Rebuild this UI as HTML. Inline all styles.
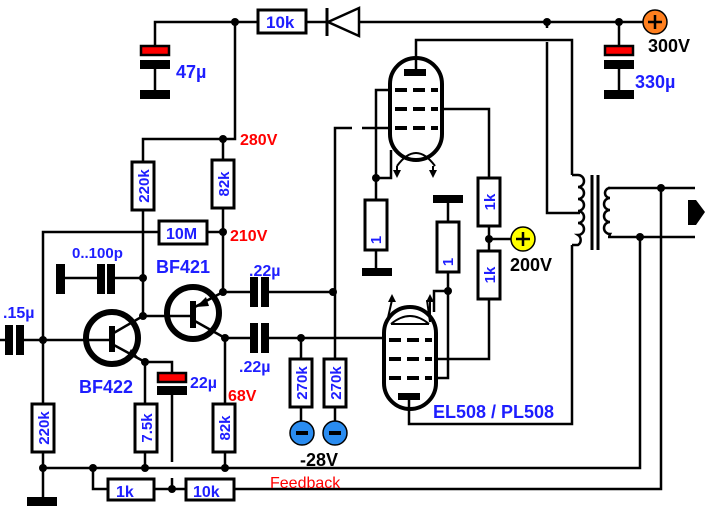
<!DOCTYPE html>
<html><head><meta charset="utf-8"><style>
html,body{margin:0;padding:0;background:#fff}
svg{display:block}
text{font-family:"Liberation Sans",sans-serif;font-weight:bold}
.b{fill:#1e1eff}.r{fill:#ff0000}.k{fill:#000}
</style></head><body>
<svg width="712" height="506" viewBox="0 0 712 506" xmlns="http://www.w3.org/2000/svg">
<g stroke="#000" stroke-width="2.5" fill="none">
<polyline points="155,45 155,22 257,22"/>
<line x1="307" y1="22" x2="327" y2="22"/>
<line x1="360" y1="22" x2="644" y2="22"/>
<line x1="155" y1="69" x2="155" y2="92"/>
<polyline points="235,22 235,139 143,139 143,161"/>
<line x1="223" y1="139" x2="223" y2="159"/>
<line x1="143" y1="211" x2="143" y2="316"/>
<line x1="223" y1="209" x2="223" y2="292"/>
<polyline points="43,497 43,232 158,232"/>
<line x1="208" y1="232" x2="223" y2="232"/>
<line x1="60" y1="278" x2="100" y2="278"/>
<line x1="112" y1="278" x2="143" y2="278"/>
<line x1="0" y1="340" x2="8" y2="340"/>
<line x1="20" y1="340" x2="88" y2="340"/>
<line x1="143" y1="316" x2="190" y2="316"/>
<polyline points="145,362 172,362 172,373"/>
<line x1="145" y1="362" x2="145" y2="403"/>
<line x1="172" y1="395" x2="172" y2="462"/>
<line x1="172" y1="478" x2="172" y2="489"/>
<line x1="225" y1="338" x2="225" y2="403"/>
<line x1="223" y1="292" x2="252" y2="292"/>
<line x1="264" y1="292" x2="335" y2="292"/>
<line x1="225" y1="338" x2="252" y2="338"/>
<line x1="264" y1="338" x2="386" y2="338"/>
<line x1="301" y1="338" x2="301" y2="358"/>
<line x1="301" y1="408" x2="301" y2="422"/>
<line x1="335" y1="408" x2="335" y2="422"/>
<polyline points="335,358 335,128 352,128"/>
<line x1="362" y1="128" x2="392" y2="128"/>
<line x1="43" y1="453" x2="43" y2="403"/>
<line x1="145" y1="453" x2="145" y2="468"/>
<line x1="225" y1="453" x2="225" y2="468"/>
<polyline points="43,468 640,468 640,237"/>
<polyline points="93,468 93,489 107,489"/>
<line x1="155" y1="489" x2="185" y2="489"/>
<polyline points="235,489 661,489 661,188"/>
<polyline points="416,70 416,40 572,40 572,175"/>
<polyline points="392,90 376,90 376,200"/>
<polyline points="391,150 391,178 376,178"/>
<line x1="376" y1="250" x2="376" y2="270"/>
<polyline points="441,109 489,109 489,177"/>
<line x1="489" y1="227" x2="489" y2="250"/>
<line x1="489" y1="239" x2="511" y2="239"/>
<polyline points="489,300 489,359 436,359"/>
<line x1="448" y1="203" x2="448" y2="222"/>
<polyline points="448,272 448,378 436,378"/>
<polyline points="448,291 434,291 434,312"/>
<polyline points="409,398 409,424 572,424 572,245"/>
<polyline points="547,22 547,28"/>
<polyline points="547,42 547,213 580,213"/>
<polyline points="608,188 695,188"/>
<polyline points="608,237 695,237"/>
<path d="M572,175 h6 a6,6 0 0 1 0,12 a6,6 0 0 1 0,12 a6,6 0 0 1 0,12 a6,6 0 0 1 0,12 a6,6 0 0 1 0,12 a6,6 0 0 1 0,10 h-6"/>
<line x1="592" y1="175" x2="592" y2="250" stroke-width="3"/>
<line x1="598" y1="175" x2="598" y2="250" stroke-width="3"/>
<path d="M610,188 a5,5 0 0 0 0,10 a6,6 0 0 0 0,12 a6,6 0 0 0 0,12 a6,6 0 0 0 0,12 a3,3 0 0 0 0,3"/>
</g>
<g fill="#000">
<circle cx="235" cy="22" r="4"/><circle cx="547" cy="22" r="4"/><circle cx="619" cy="22" r="4"/>
<circle cx="223" cy="139" r="4"/><circle cx="223" cy="232" r="4"/>
<circle cx="143" cy="278" r="4"/><circle cx="143" cy="316" r="4"/>
<circle cx="43" cy="340" r="4"/><circle cx="145" cy="362" r="4"/>
<circle cx="223" cy="292" r="4"/><circle cx="225" cy="338" r="4"/>
<circle cx="333" cy="292" r="4"/><circle cx="301" cy="338" r="4"/>
<circle cx="43" cy="468" r="4"/><circle cx="93" cy="468" r="4"/><circle cx="145" cy="468" r="4"/><circle cx="225" cy="468" r="4"/>
<circle cx="172" cy="489" r="4"/>
<circle cx="376" cy="178" r="4"/><circle cx="489" cy="239" r="4"/><circle cx="448" cy="291" r="4"/>
<circle cx="661" cy="188" r="4"/><circle cx="640" cy="237" r="4"/>
</g>
<line x1="619" y1="22" x2="619" y2="45" stroke="#000" stroke-width="2.5"/>
<line x1="619" y1="69" x2="619" y2="92" stroke="#000" stroke-width="2.5"/>
<g stroke="#000" stroke-width="2.5">
<rect x="141" y="46" width="28" height="9" fill="#ff0000"/>
<rect x="605" y="46" width="28" height="9" fill="#ff0000"/>
<rect x="158" y="373" width="28" height="9" fill="#ff0000"/>
</g>
<g fill="#000">
<rect x="140" y="60" width="30" height="9"/><rect x="140" y="90" width="30" height="9"/>
<rect x="604" y="60" width="30" height="9"/><rect x="604" y="90" width="30" height="9"/>
<rect x="157" y="386" width="30" height="9"/>
<rect x="56" y="264" width="9" height="30"/><rect x="97" y="264" width="8" height="30"/><rect x="107" y="264" width="8" height="30"/>
<rect x="5" y="325" width="8" height="30"/><rect x="16" y="325" width="8" height="30"/>
<rect x="250" y="277" width="8" height="30"/><rect x="261" y="277" width="8" height="30"/>
<rect x="250" y="323" width="8" height="30"/><rect x="261" y="323" width="8" height="30"/>
<rect x="27" y="497" width="30" height="9"/>
<rect x="362" y="268" width="30" height="8"/><rect x="433" y="195" width="30" height="8"/>
<rect x="404" y="69" width="22" height="7"/><rect x="398" y="393" width="22" height="7"/>
<polygon points="688,200 696,200 705,212 696,225 688,225"/>
</g>
<g stroke="#000" stroke-width="3" fill="none">
<line x1="327" y1="8" x2="327" y2="36"/>
<polygon points="328,22 359,8 359,36" stroke-width="2.5"/>
</g>
<g stroke="#000" stroke-width="3" fill="#fff">
<rect x="258" y="10" width="48" height="23"/>
<rect x="132" y="162" width="22" height="48"/>
<rect x="212" y="160" width="22" height="48"/>
<rect x="159" y="221" width="48" height="23"/>
<rect x="32" y="404" width="22" height="48"/>
<rect x="135" y="404" width="22" height="48"/>
<rect x="213" y="404" width="22" height="48"/>
<rect x="290" y="359" width="22" height="48"/>
<rect x="324" y="359" width="22" height="48"/>
<rect x="108" y="479" width="46" height="21"/>
<rect x="186" y="479" width="48" height="21"/>
<rect x="365" y="200" width="22" height="50"/>
<rect x="437" y="222" width="22" height="50"/>
<rect x="478" y="178" width="22" height="48"/>
<rect x="478" y="251" width="22" height="48"/>
</g>
<g stroke="#000" stroke-width="4" fill="none">
<path d="M390,84 a26,26 0 0 1 52,0 v50 a26,26 0 0 1 -52,0 z"/>
<path d="M384,333 a26,26 0 0 1 52,0 v50 a26,26 0 0 1 -52,0 z"/>
</g>
<g stroke="#000" stroke-width="4" stroke-dasharray="12,6">
<line x1="395" y1="90" x2="438" y2="90"/><line x1="395" y1="109" x2="438" y2="109"/><line x1="395" y1="128" x2="438" y2="128"/>
<line x1="389" y1="340" x2="432" y2="340"/><line x1="389" y1="359" x2="432" y2="359"/><line x1="389" y1="378" x2="432" y2="378"/>
</g>
<g stroke="#000" stroke-width="2" fill="none">
<path d="M397,166 q19,-26 38,0"/><path d="M391,324 q19,-16 38,0"/>
<line x1="391" y1="324" x2="429" y2="324"/>
<line x1="397" y1="166" x2="397" y2="172"/><line x1="433" y1="166" x2="433" y2="172"/>
<polyline points="387,322 392,300"/><polyline points="430,322 427,300"/>
<polyline points="430,322 430,300"/>
</g>
<g fill="#000">
<polygon points="393,170 401,170 397,178"/><polygon points="429,170 437,170 433,178"/>
<polygon points="388,302 396,302 392,294"/><polygon points="426,302 434,302 430,294"/>
</g>
<g stroke="#000" fill="none">
<circle cx="112" cy="338" r="26" stroke-width="6"/>
<circle cx="193" cy="313" r="26" stroke-width="6"/>
<line x1="112" y1="326" x2="112" y2="352" stroke-width="6"/>
<line x1="193" y1="301" x2="193" y2="328" stroke-width="6"/>
<line x1="88" y1="340" x2="112" y2="340" stroke-width="2.5"/>
<line x1="112" y1="334" x2="143" y2="316" stroke-width="2.5"/>
<line x1="112" y1="344" x2="145" y2="362" stroke-width="2.5"/>
<line x1="193" y1="308" x2="223" y2="292" stroke-width="2.5"/>
<line x1="193" y1="320" x2="225" y2="338" stroke-width="2.5"/>
</g>
<g fill="#000">
<polygon points="138,357 126,358 131,349"/>
<polygon points="196,307 206,297 209,306"/>
</g>
<g stroke="#000" stroke-width="1.5">
<circle cx="655" cy="22" r="12" fill="#ff7f1e"/>
<circle cx="523" cy="239" r="12" fill="#ffff00"/>
<circle cx="302" cy="433" r="12" fill="#2a8cf0"/>
<circle cx="335" cy="433" r="12" fill="#2a8cf0"/>
</g>
<g stroke="#000" stroke-width="2.5">
<line x1="648" y1="22" x2="662" y2="22"/><line x1="655" y1="15" x2="655" y2="29"/>
<line x1="516" y1="239" x2="530" y2="239"/><line x1="523" y1="232" x2="523" y2="246"/>
</g>
<g stroke="#000" stroke-width="4">
<line x1="296" y1="433" x2="308" y2="433"/><line x1="329" y1="433" x2="341" y2="433"/>
</g>
<text x="266" y="28" font-size="17" class="b">10k</text>
<text x="176" y="78" font-size="18" class="b">47µ</text>
<text x="240" y="145" font-size="16" class="r">280V</text>
<text x="230" y="241" font-size="16" class="r">210V</text>
<text x="166" y="239" font-size="16" class="b">10M</text>
<text x="72" y="258" font-size="15" class="b">0..100p</text>
<text x="156" y="273" font-size="18" class="b">BF421</text>
<text x="79" y="393" font-size="18" class="b">BF422</text>
<text x="3" y="318" font-size="16" class="b">.15µ</text>
<text x="249" y="276" font-size="16" class="b">.22µ</text>
<text x="239" y="372" font-size="16" class="b">.22µ</text>
<text x="190" y="388" font-size="16" class="b">22µ</text>
<text x="228" y="401" font-size="16" class="r">68V</text>
<text x="300" y="466" font-size="18" class="k">-28V</text>
<text x="116" y="497" font-size="16" class="b">1k</text>
<text x="193" y="497" font-size="16" class="b">10k</text>
<text x="270" y="488" font-size="16" class="r" style="font-weight:normal">Feedback</text>
<text x="648" y="52" font-size="18" class="k">300V</text>
<text x="635" y="88" font-size="18" class="b">330µ</text>
<text x="510" y="271" font-size="18" class="k">200V</text>
<text x="433" y="418" font-size="18" class="b">EL508 / PL508</text>
<g font-size="15">
<text transform="translate(149,186) rotate(-90)" text-anchor="middle" class="b">220k</text>
<text transform="translate(229,184) rotate(-90)" text-anchor="middle" class="b">82k</text>
<text transform="translate(49,428) rotate(-90)" text-anchor="middle" class="b">220k</text>
<text transform="translate(152,428) rotate(-90)" text-anchor="middle" class="b">7.5k</text>
<text transform="translate(230,428) rotate(-90)" text-anchor="middle" class="b">82k</text>
<text transform="translate(307,383) rotate(-90)" text-anchor="middle" class="b">270k</text>
<text transform="translate(341,383) rotate(-90)" text-anchor="middle" class="b">270k</text>
<text transform="translate(381,240) rotate(-90)" text-anchor="middle" class="b">1</text>
<text transform="translate(453,262) rotate(-90)" text-anchor="middle" class="b">1</text>
<text transform="translate(495,202) rotate(-90)" text-anchor="middle" class="b">1k</text>
<text transform="translate(495,275) rotate(-90)" text-anchor="middle" class="b">1k</text>
</g>
</svg>
</body></html>
